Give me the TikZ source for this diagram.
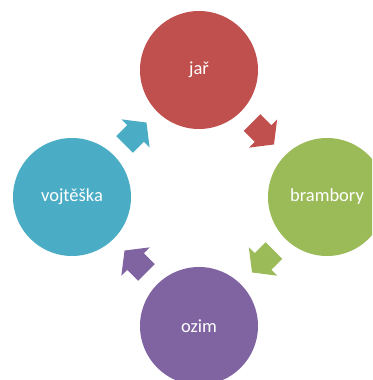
\documentclass[tikz,border=0pt]{standalone}
\usepackage{fontspec}
\setmainfont{Carlito}
\usetikzlibrary{calc}
\definecolor{cred}{HTML}{C0504D}
\definecolor{cgreen}{HTML}{9BBB59}
\definecolor{cpurple}{HTML}{8064A2}
\definecolor{cblue}{HTML}{4BACC6}
\tikzset{
  cyclenode/.style={circle, minimum size=118pt, inner sep=0pt, text=white,
    font=\fontsize{18.5}{22}\selectfont},
}
\newcommand{\blockarr}[4]{%
  \begin{scope}[shift={($(#1)!0.5!(#2)$)}, rotate=#3]
    \fill[#4] (-15.5,-11.75) -- (0,-11.75) -- (0,-20) -- (15.5,0) -- (0,20)
      -- (0,11.75) -- (-15.5,11.75) -- cycle;
  \end{scope}}
\begin{document}
\begin{tikzpicture}[x=1pt,y=1pt]
\useasboundingbox (0,0) rectangle (372,380);
\begin{scope}
\clip (0,0) rectangle (372,380);
\node[cyclenode, fill=cred]    (jar)  at (199,310) {jař};
\node[cyclenode, fill=cgreen]  (bram) at (327,183) {brambory};
\node[cyclenode, fill=cpurple] (ozim) at (199,54)  {ozim};
\node[cyclenode, fill=cblue]   (vojt) at (72,183)  {vojtěška};
\end{scope}
\blockarr{jar}{bram}{-45}{cred}
\blockarr{bram}{ozim}{-135}{cgreen}
\blockarr{ozim}{vojt}{135}{cpurple}
\blockarr{vojt}{jar}{45}{cblue}
\end{tikzpicture}
\end{document}
